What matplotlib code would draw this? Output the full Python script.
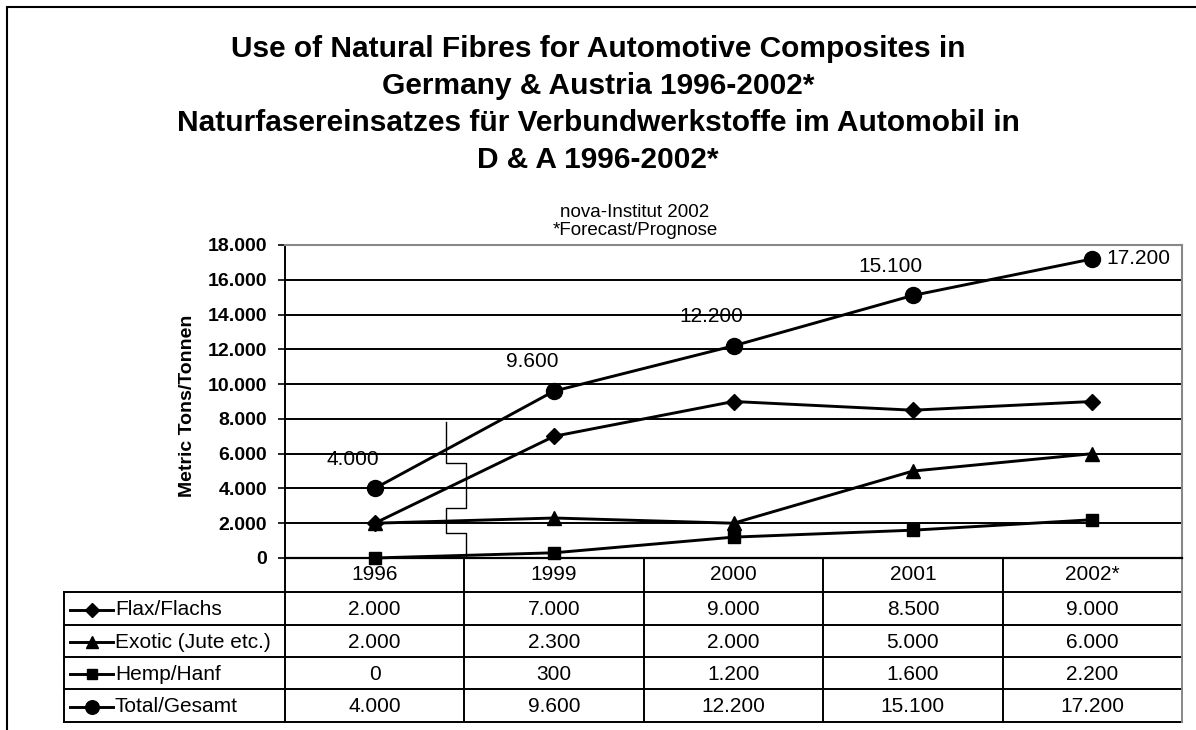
import numpy as np
import matplotlib
matplotlib.use("Agg")
import matplotlib.pyplot as plt
from matplotlib.patches import Rectangle

plt.rcParams["font.family"] = ["Liberation Sans", "DejaVu Sans"]

years = ["1996", "1999", "2000", "2001", "2002*"]
flax = [2000, 7000, 9000, 8500, 9000]
exotic = [2000, 2300, 2000, 5000, 6000]
hemp = [0, 300, 1200, 1600, 2200]
total = [4000, 9600, 12200, 15100, 17200]
names = ["Flax/Flachs", "Exotic (Jute etc.)", "Hemp/Hanf", "Total/Gesamt"]
markers = ["D", "^", "s", "o"]
msizes = [8, 10.5, 8.5, 11.5]


def fmt(v):
    return f"{v:,.0f}".replace(",", ".")


W, H = 1196, 730
fig = plt.figure(figsize=(W / 100, H / 100), dpi=100)

# outer frame (runs off the right and bottom edge)
fig.patches.append(Rectangle((7 / W, -0.05), 1.1, 1 - 7 / H + 0.05, transform=fig.transFigure,
                             fill=False, ec="black", lw=1.5))

# title
title = ["Use of Natural Fibres for Automotive Composites in",
         "Germany & Austria 1996-2002*",
         "Naturfasereinsatzes für Verbundwerkstoffe im Automobil in",
         "D & A 1996-2002*"]
for i, t in enumerate(title):
    fig.text(0.5, 1 - (57 + 37 * i) / H, t, ha="center", va="baseline",
             fontsize=21.5, fontweight="bold")
fig.text(635 / W, 1 - 217 / H, "nova-Institut 2002", ha="center", va="baseline", fontsize=13.5)
fig.text(635 / W, 1 - 235 / H, "*Forecast/Prognose", ha="center", va="baseline", fontsize=13.5)

top, bot = 245, 558
ax = fig.add_axes([285 / W, 1 - bot / H, (1182 - 285) / W, (bot - top) / H])
x = np.arange(len(years))
series = [flax, exotic, hemp, total]
for vals, m, s in zip(series, markers, msizes):
    ax.plot(x, vals, color="black", lw=2.1, marker=m, ms=s, zorder=3, clip_on=False)

for i, v in enumerate(total):
    if i < len(total) - 1:
        ax.annotate(fmt(v), (x[i], v), xytext=(-16, 21), textcoords="offset points",
                    ha="center", va="center", fontsize=15)
    else:
        ax.annotate(fmt(v), (x[i], v), xytext=(10, 0), textcoords="offset points",
                    ha="left", va="center", fontsize=15)

yt = list(range(0, 18001, 2000))
ax.set_yticks(yt)
ax.set_yticklabels([fmt(v) for v in yt], fontsize=14, fontweight="bold")
ax.set_xticks([])
ax.tick_params(axis="y", length=5, width=1.2, pad=8)
ax.yaxis.grid(True, color="black", lw=1.4)
ax.set_axisbelow(True)
for side in ["top", "right"]:
    ax.spines[side].set_color("#888888")
    ax.spines[side].set_linewidth(1.5)
ax.spines["left"].set_linewidth(1.4)
ax.spines["bottom"].set_linewidth(1.6)

fig.text(188 / W, 1 - 406 / H, "Metric Tons/Tonnen", rotation=90, ha="center", va="center",
         fontsize=14, fontweight="bold")

# axis break mark
bx = [0.397, 0.397, 0.509, 0.509, 0.397, 0.397, 0.509, 0.509]
by = [7821, 5463, 5463, 2875, 2875, 1438, 1438, 0]
ax.plot(bx, by, color="black", lw=1, zorder=2)

# data table below the axes
tr = ax.get_xaxis_transform()
colw = (1182 - 285) / len(years)


def fy(ypx):
    return (bot - ypx) / (bot - top)


def fx(xpx):
    return (xpx - 285) / colw - 0.5


edges = [592, 625, 657, 689, 722]
left = fx(64)
for e in edges:
    ax.plot([left, 4.5], [fy(e), fy(e)], color="black", lw=1.4, transform=tr, clip_on=False)
for k in range(len(years) + 1):
    c = "#888888" if k == len(years) else "black"
    ax.plot([k - 0.5, k - 0.5], [0, fy(722)], color=c, lw=1.4, transform=tr, clip_on=False)
ax.plot([left, left], [fy(592), fy(722)], color="black", lw=1.4, transform=tr, clip_on=False)

for j, yr in enumerate(years):
    ax.text(j, fy(575), yr, transform=tr, ha="center", va="center", fontsize=15)

for r, (nm, vals, m, s) in enumerate(zip(names, series, markers, msizes)):
    yc = fy((edges[r] + edges[r + 1]) / 2 + 1)
    ax.plot([fx(70), fx(113)], [yc, yc], color="black", lw=2.1, transform=tr, clip_on=False)
    ax.plot([fx(92)], [yc], color="black", marker=m, ms=s * 0.85, transform=tr, clip_on=False)
    ax.text(fx(115), yc, nm, transform=tr, ha="left", va="center", fontsize=15)
    for j, v in enumerate(vals):
        ax.text(j, yc, fmt(v), transform=tr, ha="center", va="center", fontsize=15)

ax.set_xlim(-0.5, 4.5)
ax.set_ylim(0, 18000)

fig.savefig("out.png", dpi=100)
